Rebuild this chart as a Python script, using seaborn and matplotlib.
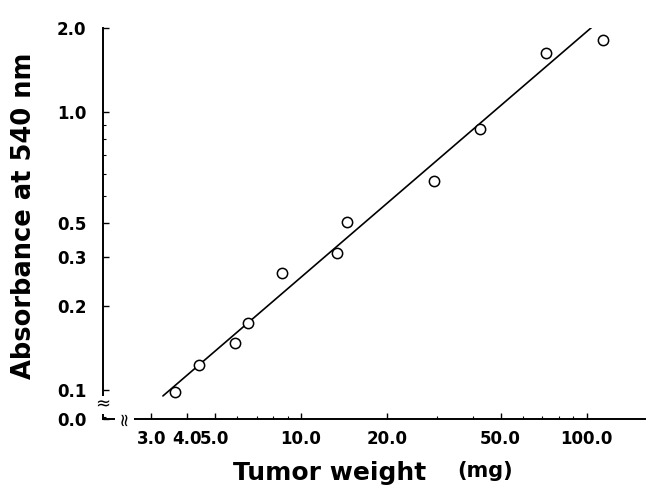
"""
Tumor weight vs absorbance at 540 nm (log-log), with fitted line.
Output: out.png
"""
import matplotlib
matplotlib.use("Agg")
import matplotlib.pyplot as plt
import matplotlib.ticker as mticker
import pandas as pd
import seaborn as sns

tumor_weight = [3.63, 4.40, 5.88, 6.53, 8.58, 13.4, 14.5, 29.2, 42.3, 71.9, 114.5]
absorbance = [0.098, 0.123, 0.148, 0.174, 0.264, 0.311, 0.402, 0.565, 0.869, 1.63, 1.82]

# end points of the regression line
fit_weight = [3.29, 119.4]
fit_absorbance = [0.0952, 2.27]

# axis ticks (the original labels the 0.4 position as "0.5")
x_ticks = [3.0, 4.0, 5.0, 10.0, 20.0, 50.0, 100.0]
x_tick_labels = ["3.0", "4.0", "5.0", "10.0", "20.0", "50.0", "100.0"]
y_ticks = [0.0787, 0.1, 0.2, 0.3, 0.4, 1.0, 2.0]
y_tick_labels = ["0.0", "0.1", "0.2", "0.3", "0.5", "1.0", "2.0"]
x_lim = (2.03, 160.0)
y_lim = (0.0787, 2.0)


def main():
    sns.set_style("ticks")
    plt.rcParams["font.family"] = ["DejaVu Sans"]
    plt.rcParams["font.weight"] = "bold"
    plt.rcParams["text.color"] = "black"
    plt.rcParams["axes.labelcolor"] = "black"

    pts = pd.DataFrame({"weight": tumor_weight, "abs": absorbance})
    fit = pd.DataFrame({"weight": fit_weight, "abs": fit_absorbance})

    fig = plt.figure(figsize=(6.52, 4.86), dpi=100)
    ax = fig.add_axes([0.158, 0.138, 0.831, 0.804])

    sns.lineplot(data=fit, x="weight", y="abs", color="black", lw=1.2, ax=ax)
    sns.scatterplot(data=pts, x="weight", y="abs", marker="o", s=55,
                    facecolor="white", edgecolor="black", linewidth=1.1,
                    zorder=3, ax=ax)

    ax.set_xscale("log")
    ax.set_yscale("log")
    ax.set_xlim(*x_lim)
    ax.set_ylim(*y_lim)

    ax.xaxis.set_major_locator(mticker.FixedLocator(x_ticks))
    ax.xaxis.set_major_formatter(mticker.FixedFormatter(x_tick_labels))
    ax.xaxis.set_minor_locator(mticker.LogLocator(base=10, subs=range(2, 10)))
    ax.xaxis.set_minor_formatter(mticker.NullFormatter())
    ax.yaxis.set_major_locator(mticker.FixedLocator(y_ticks))
    ax.yaxis.set_major_formatter(mticker.FixedFormatter(y_tick_labels))
    ax.yaxis.set_minor_locator(mticker.LogLocator(base=10, subs=range(5, 10)))
    ax.yaxis.set_minor_formatter(mticker.NullFormatter())

    ax.tick_params(which="major", direction="in", length=4, width=1.0,
                   labelsize=12, colors="black")
    ax.tick_params(axis="y", which="major", pad=12)
    ax.tick_params(axis="x", which="major", pad=8)
    ax.tick_params(which="minor", direction="in", length=2.5, width=0.8,
                   colors="black")
    for lab in ax.get_xticklabels() + ax.get_yticklabels():
        lab.set_fontweight("bold")

    sns.despine(ax=ax)
    for side in ("left", "bottom"):
        ax.spines[side].set_linewidth(1.4)
        ax.spines[side].set_color("black")

    # axis break marks
    ax.text(0.0, 0.036, "≈", transform=ax.transAxes, ha="center", va="center",
            fontsize=13, fontweight="normal",
            bbox=dict(facecolor="white", edgecolor="none", pad=0.2))
    ax.text(0.039, 0.0, "≈", transform=ax.transAxes, ha="center", va="center",
            fontsize=13, fontweight="normal", rotation=90,
            bbox=dict(facecolor="white", edgecolor="none", pad=0.2))

    ax.set_xlabel("Tumor weight", fontsize=18, fontweight="bold", color="black")
    ax.xaxis.set_label_coords(0.419, -0.108)
    ax.set_ylabel("Absorbance at 540 nm", fontsize=18.5, fontweight="bold",
                  color="black")
    ax.yaxis.set_label_coords(-0.122, 0.519)
    fig.text(0.744, 0.03, "(mg)", fontsize=15, fontweight="bold",
             color="black", ha="center", va="center")

    fig.savefig("out.png", dpi=100)
    plt.close(fig)


if __name__ == "__main__":
    main()
